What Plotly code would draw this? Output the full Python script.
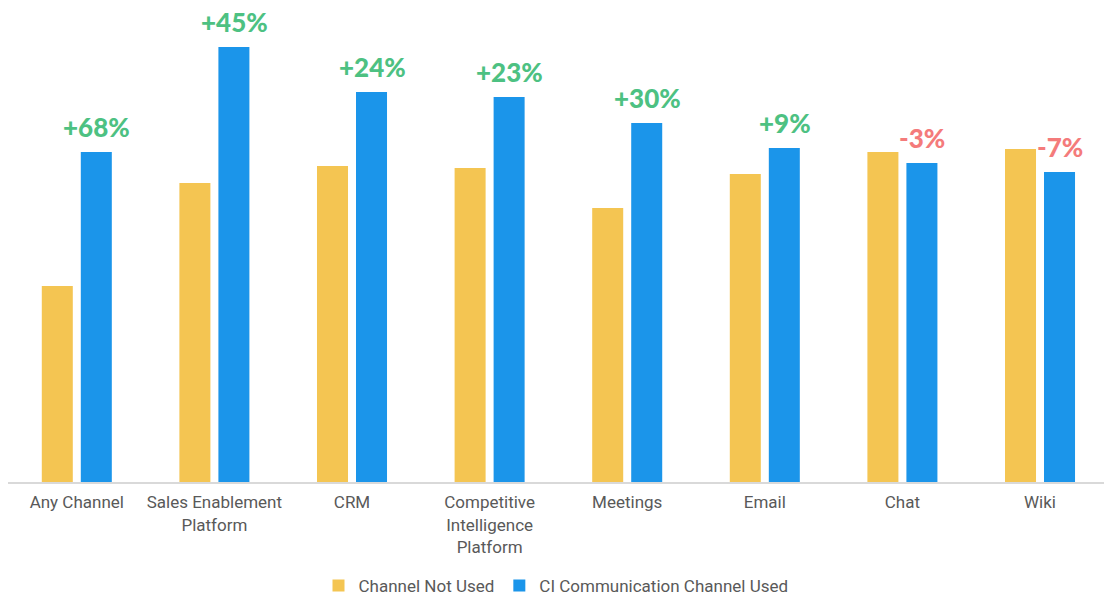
import plotly.graph_objects as go

# Channel categories (multi-line tick labels)
categories = [
    "Any Channel",
    "Sales Enablement<br>Platform",
    "CRM",
    "Competitive<br>Intelligence<br>Platform",
    "Meetings",
    "Email",
    "Chat",
    "Wiki",
]

# Series values
not_used = [19.6, 29.9, 31.6, 31.4, 27.4, 30.8, 33.0, 33.3]
used = [33.0, 43.5, 39.0, 38.5, 35.9, 33.4, 31.9, 31.0]

# Change labels shown above each pair
change_labels = ["+68%", "+45%", "+24%", "+23%", "+30%", "+9%", "-3%", "-7%"]

YELLOW = "#F4C552"
BLUE = "#1B95EA"
GREEN = "#4DC182"
RED = "#F47B7B"

fig = go.Figure()
fig.add_trace(go.Bar(
    x=categories, y=not_used, name="Channel Not Used",
    marker=dict(color=YELLOW, line=dict(width=0)),
))
fig.add_trace(go.Bar(
    x=categories, y=used, name="CI Communication Channel Used",
    marker=dict(color=BLUE, line=dict(width=0)),
))

for cat, val, lab in zip(categories, used, change_labels):
    fig.add_annotation(
        x=cat, y=val, xref="x", yref="y",
        text=lab, showarrow=False,
        xanchor="center", yanchor="bottom",
        xshift=20, yshift=7,
        font=dict(family="Lato", size=26, weight=900,
                  color=GREEN if lab.startswith("+") else RED),
    )

fig.update_layout(
    width=1104, height=598,
    margin=dict(l=8, r=0, t=0, b=116),
    paper_bgcolor="white", plot_bgcolor="white",
    barmode="group", bargap=0.433, bargroupgap=0.205,
    showlegend=True,
    legend=dict(
        orientation="h", x=0.5, xanchor="center",
        yref="container", y=0.02, yanchor="middle",
        font=dict(family="Roboto", size=17, color="#595959"),
        itemwidth=30, traceorder="normal",
    ),
    xaxis=dict(
        range=[-0.5, 7.465],
        showline=True, linecolor="#D9D9D9", linewidth=2,
        ticks="", showgrid=False, ticklabelstandoff=4,
        tickfont=dict(family="Roboto", size=17, color="#595959"),
    ),
    yaxis=dict(range=[0, 48.2], visible=False, showgrid=False),
)

fig.write_html("out.html")
